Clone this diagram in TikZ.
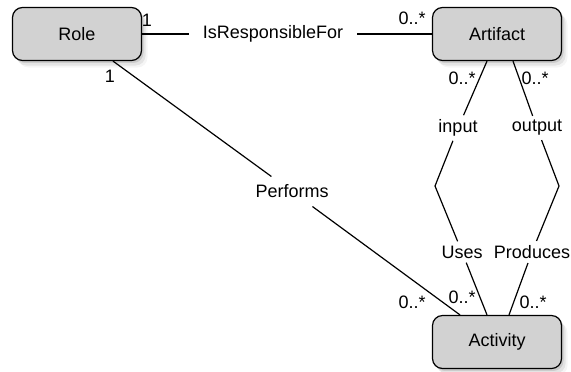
\documentclass[tikz,border=0pt]{standalone}
\usepackage{fontspec}
\setmainfont{Liberation Sans}
\usetikzlibrary{shadows,positioning}
\definecolor{boxgray}{HTML}{D2D2D2}

\begin{document}
\begin{tikzpicture}[
  x=0.5pt, y=-0.5pt,
  classbox/.style={
    rectangle, rounded corners=5pt, minimum width=64.5pt, minimum height=26.5pt,
    draw=black, line width=0.6pt, fill=boxgray, font=\fontsize{9}{11}\selectfont,
    drop shadow={shadow xshift=1pt, shadow yshift=-1.2pt, opacity=0.25},
    drop shadow={shadow xshift=2pt, shadow yshift=-2.5pt, opacity=0.15},
    drop shadow={shadow xshift=3pt, shadow yshift=-3.5pt, opacity=0.08},
  },
  rolelbl/.style={inner xsep=3pt, inner ysep=2pt, font=\fontsize{9}{11}\selectfont},
  mult/.style={inner sep=0pt, font=\fontsize{9}{11}\selectfont},
  assoc/.style={draw=black, line width=0.6pt},
]
  \useasboundingbox (0,0) rectangle (571,371);

  % Classes
  \node[classbox] (role) at (77,34) {Role};
  \node[classbox] (artifact) at (497,34) {Artifact};
  \node[classbox] (activity) at (497,342) {Activity};

  % Role -- Artifact
  \node[rolelbl, inner xsep=7pt] (resp) at (273,34) {IsResponsibleFor};
  \draw[assoc] (role.east) -- (resp) -- (artifact.west);
  \node[mult] (m1) at (147,20) {1};
  \node[mult] (m2) at (412,18) {0..*};

  % Role -- Activity
  \coordinate (perfstart) at ([xshift=18pt]role.south);
  \coordinate (perfend) at ([xshift=-18.5pt]activity.north);
  \node[rolelbl, inner sep=4pt] (perf) at (292,191.5) {Performs};
  \draw[assoc] (perfstart) -- (perf) -- (perfend);
  \node[mult] (m3) at (110,76) {1};
  \node[mult] (m4) at (412,302) {0..*};

  % Artifact -- Activity (input / Uses)
  \coordinate (instart) at ([xshift=-5pt]artifact.south);
  \coordinate (inend) at ([xshift=-5pt]activity.north);
  \coordinate (inbend) at (435,186);
  \node[rolelbl] (input) at (458,128) {input};
  \node[rolelbl] (uses) at (462,252) {Uses};
  \draw[assoc] (instart) -- (input) -- (inbend) -- (uses) -- (inend);
  \node[mult] (m5) at (462,78) {0..*};
  \node[mult] (m6) at (462,297) {0..*};

  % Artifact -- Activity (output / Produces)
  \coordinate (outstart) at ([xshift=8pt]artifact.south);
  \coordinate (outend) at ([xshift=6pt]activity.north);
  \coordinate (outbend) at (559,186);
  \node[rolelbl] (output) at (537,128) {output};
  \node[rolelbl] (produces) at (532,252) {Produces};
  \draw[assoc] (outstart) -- (output) -- (outbend) -- (produces) -- (outend);
  \node[mult] (m7) at (535,78) {0..*};
  \node[mult] (m8) at (533,302) {0..*};

\end{tikzpicture}
\end{document}
